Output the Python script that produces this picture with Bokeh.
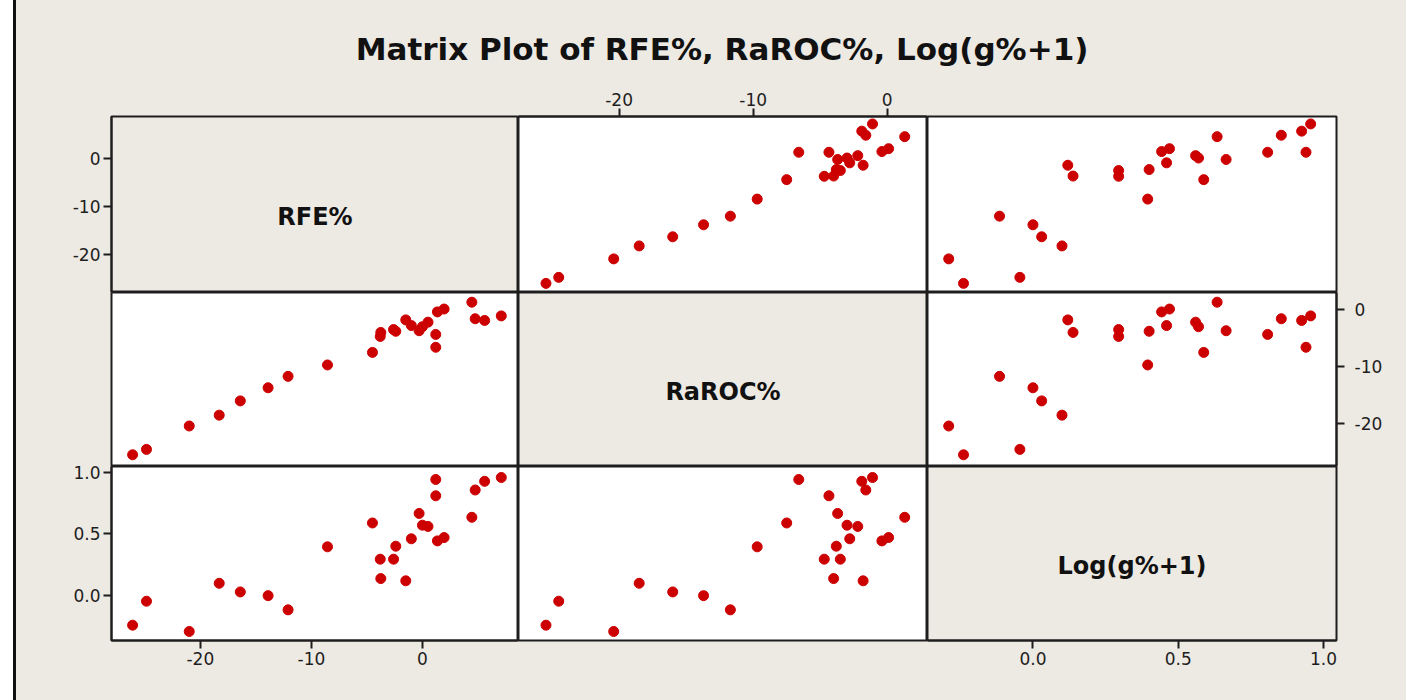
from bokeh.plotting import figure
from bokeh.layouts import row, column
from bokeh.models import Range1d, LinearAxis, FixedTicker, Spacer
from bokeh.embed import file_html
from bokeh.resources import INLINE
from bokeh.core.properties import value

# Observations (one entry per case)
rfe = [-26.1, -24.85, -21.0, -18.3, -16.4, -13.9, -12.1, -8.55, -4.5, -3.75,
       -3.8, -2.6, -2.4, -1.5, -1.0, -0.3, 0.0, 0.5, 1.2, 1.2,
       1.35, 1.95, 4.45, 4.75, 5.6, 7.1]
raroc = [-25.45, -24.5, -20.4, -18.5, -16.0, -13.7, -11.7, -9.7, -7.5, -4.0,
         -4.7, -3.5, -3.8, -1.8, -2.8, -3.7, -3.0, -2.2, -4.35, -6.6,
         -0.4, 0.1, 1.3, -1.6, -1.9, -1.1]
log_g = [-0.239, -0.045, -0.29, 0.10, 0.03, 0.0, -0.115, 0.395, 0.588, 0.138,
         0.295, 0.295, 0.40, 0.12, 0.46, 0.665, 0.57, 0.56, 0.808, 0.94,
         0.443, 0.47, 0.634, 0.855, 0.925, 0.956]

var_names = ["RFE%", "RaROC%", "Log(g%+1)"]
var_values = [rfe, raroc, log_g]
var_limits = [(-28.0, 8.65), (-27.5, 3.0), (-0.363, 1.045)]
var_ticks = [[-20, -10, 0], [-20, -10, 0], [0.0, 0.5, 1.0]]
var_tick_text = [["-20", "-10", "0"], ["-20", "-10", "0"], ["0.0", "0.5", "1.0"]]

TITLE = "Matrix Plot of RFE%, RaROC%, Log(g%+1)"

PAGE_BG = "#EDE9E3"
DOT = "#CC0000"
INK = "#1e1e1e"
FONT = "DejaVu Sans"

frame_w = [407, 409, 409]
frame_h = [176, 174, 174]
border_left, border_right, border_top, border_bottom = 95, 70, 40, 60
overlap = 12          # headroom above the bottom row for its top tick label
content_w = border_left + sum(frame_w) + border_right
title_h = 76
page_h = title_h + border_top + sum(frame_h) + border_bottom
bg_style = {"background-color": PAGE_BG}


def styled_axis(k):
    ax = LinearAxis(ticker=FixedTicker(ticks=var_ticks[k], minor_ticks=[]))
    ax.major_label_overrides = {t: s for t, s in zip(var_ticks[k], var_tick_text[k])}
    ax.axis_line_color = INK
    ax.axis_line_width = 2
    ax.major_tick_line_color = INK
    ax.major_tick_line_width = 2
    ax.major_tick_out = 8
    ax.major_tick_in = 0
    ax.minor_tick_out = 0
    ax.minor_tick_in = 0
    ax.major_label_text_font = FONT
    ax.major_label_text_font_size = "17px"
    ax.major_label_text_color = INK
    ax.major_label_standoff = 3
    return ax


def panel(i, j):
    if i == 0:
        top = border_top
    elif i == 2:
        top = overlap
    else:
        top = 0
    p = figure(
        x_range=Range1d(*var_limits[j]), y_range=Range1d(*var_limits[i]),
        frame_width=frame_w[j], frame_height=frame_h[i],
        min_border=0,
        min_border_left=border_left if j == 0 else 0,
        min_border_right=border_right if j == 2 else 0,
        min_border_top=top,
        min_border_bottom=border_bottom if i == 2 else 0,
        x_axis_location=None, y_axis_location=None,
        toolbar_location=None, output_backend="svg",
    )
    p.grid.visible = False
    p.border_fill_color = PAGE_BG
    if i == 2:
        # transparent so the row above shows through the headroom strip
        p.border_fill_alpha = 0
    p.outline_line_color = INK
    p.outline_line_width = 2
    if i == j:
        p.background_fill_color = PAGE_BG
        lo_x, hi_x = var_limits[j]
        lo_y, hi_y = var_limits[i]
        p.text(x=[(lo_x + hi_x) / 2], y=[lo_y + 0.43 * (hi_y - lo_y)],
               text=[var_names[i]], text_font=value(FONT), text_font_style="bold",
               text_font_size="24px", text_align="center", text_baseline="middle",
               text_color="#111111")
    else:
        p.background_fill_color = "white"
        p.scatter(x=var_values[j], y=var_values[i], marker="circle",
                  size=10, fill_color=DOT, line_color=DOT)
    return p


panels = [[panel(i, j) for j in range(3)] for i in range(3)]

# outer axes in the classic matrix-plot arrangement
panels[0][0].add_layout(styled_axis(0), "left")
panels[0][1].add_layout(styled_axis(1), "above")
ax = styled_axis(1)
ax.major_label_standoff = 10
panels[1][2].add_layout(ax, "right")
panels[2][0].add_layout(styled_axis(2), "left")
panels[2][0].add_layout(styled_axis(0), "below")
panels[2][2].add_layout(styled_axis(2), "below")

# heading strip
head = figure(x_range=Range1d(0, content_w), y_range=Range1d(title_h, 0),
              width=content_w, height=title_h, min_border=0,
              x_axis_location=None, y_axis_location=None,
              toolbar_location=None, output_backend="svg")
head.grid.visible = False
head.outline_line_color = None
head.background_fill_color = PAGE_BG
head.border_fill_color = PAGE_BG
title_x = border_left + sum(frame_w) / 2 - 2
title_y = 48
head.text(x=[title_x], y=[title_y], text=[TITLE], text_font=value(FONT),
          text_font_style="bold", text_font_size="31px", text_align="center",
          text_baseline="middle", text_color="#111111")

rows = []
for i, r in enumerate(panels):
    st = dict(bg_style)
    if i == 2:
        st["margin-top"] = f"-{overlap}px"
        st["background-color"] = "transparent"
        st["position"] = "relative"
        st["z-index"] = "2"
    rows.append(row(r, spacing=0, styles=st))
grid = column(rows, spacing=0, styles=bg_style)
body = column([head, grid], spacing=0, styles=bg_style)

margin_strip = Spacer(width=13, height=page_h, styles={"background-color": "white"})
edge_line = Spacer(width=3, height=page_h, styles={"background-color": "#111111"})

page = row([margin_strip, edge_line, body], spacing=0, styles=bg_style)

open("out.html", "w").write(file_html(page, INLINE))
